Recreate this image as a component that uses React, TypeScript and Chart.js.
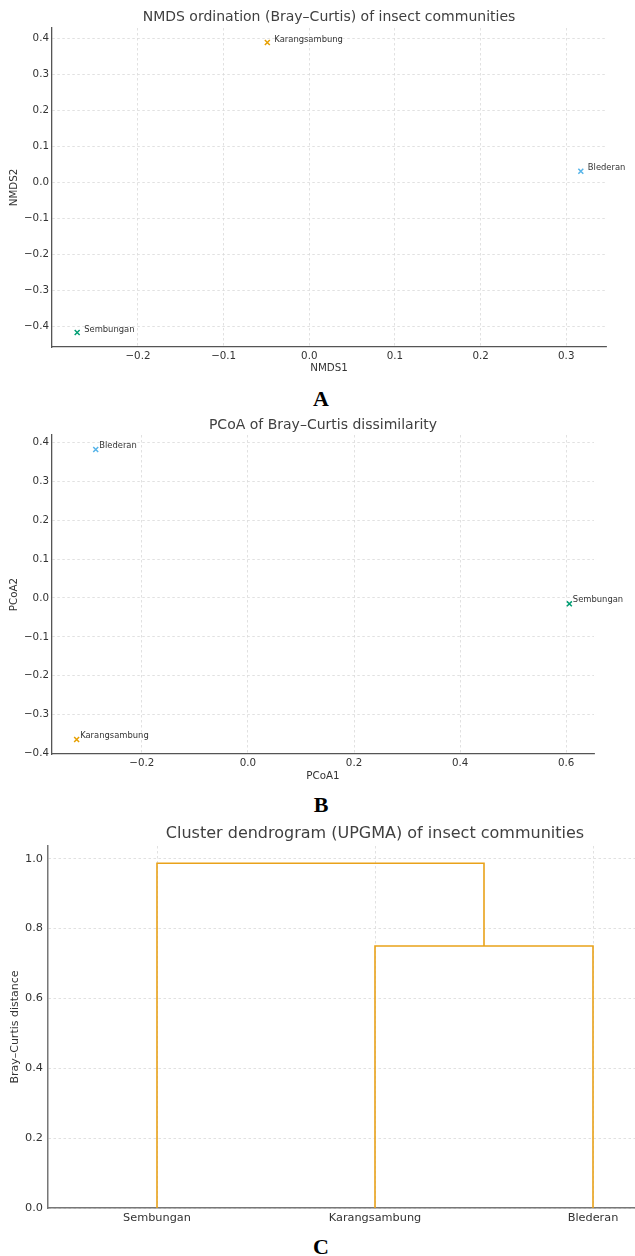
import React, { useEffect, useRef } from 'react';
import { Chart, registerables } from 'chart.js';

Chart.register(...registerables);
Chart.defaults.font.family = "'DejaVu Sans', 'Liberation Sans', sans-serif";

// ---------------- data ----------------
const sites = ['Karangsambung', 'Blederan', 'Sembungan'];
const siteColors = ['#E69F00', '#56B4E9', '#009E73'];

// NMDS (panel A)
const nmds1 = [-0.049, 0.317, -0.271];
const nmds2 = [0.389, 0.031, -0.417];
const nmdsXTicks = [-0.2, -0.1, 0.0, 0.1, 0.2, 0.3];
const nmdsYTicks = [-0.4, -0.3, -0.2, -0.1, 0.0, 0.1, 0.2, 0.3, 0.4];

// PCoA (panel B)
const pcoa1 = [-0.323, -0.287, 0.606];
const pcoa2 = [-0.364, 0.382, -0.015];
const pcoaXTicks = [-0.2, 0.0, 0.2, 0.4, 0.6];
const pcoaYTicks = [-0.4, -0.3, -0.2, -0.1, 0.0, 0.1, 0.2, 0.3, 0.4];

// UPGMA dendrogram (panel C)
const leaves = ['Sembungan', 'Karangsambung', 'Blederan'];
const leafPositions = [5, 15, 25];
const linkX = [
  [15, 15, 25, 25],
  [5, 5, 20, 20],
];
const linkHeights = [
  [0, 0.75, 0.75, 0],
  [0, 0.987, 0.987, 0.75],
];
const dendroYTicks = [0.0, 0.2, 0.4, 0.6, 0.8, 1.0];

// ---------------- helpers ----------------
const fmt = (v: number) => {
  const s = Math.abs(v) < 1e-9 ? '0.0' : v.toFixed(1);
  return s.replace('-', '\u2212');
};

const padRange = (vals: number[], m = 0.05): [number, number] => {
  const lo = Math.min(...vals);
  const hi = Math.max(...vals);
  const d = (hi - lo) * m;
  return [lo - d, hi + d];
};

const GRID_COLOR = '#d9d9d9';
const TEXT_COLOR = '#333333';
const TITLE_COLOR = '#404040';

function pointLabelPlugin(names: string[], dx: number, dy: number) {
  return {
    id: 'pointLabels',
    afterDatasetsDraw(chart: any) {
      const ctx = chart.ctx as CanvasRenderingContext2D;
      const meta = chart.getDatasetMeta(0);
      ctx.save();
      ctx.font = "8.4px 'DejaVu Sans', sans-serif";
      ctx.fillStyle = TEXT_COLOR;
      ctx.textAlign = 'left';
      ctx.textBaseline = 'alphabetic';
      meta.data.forEach((el: any, i: number) => {
        ctx.fillText(names[i], el.x + dx, el.y + dy);
      });
      ctx.restore();
    },
  };
}

interface ScatterOpts {
  xs: number[];
  ys: number[];
  xTicks: number[];
  yTicks: number[];
  title: string;
  xTitle: string;
  yTitle: string;
  titlePad: { top: number; bottom: number };
  padRight: number;
  xAxisH: number;
  xTitlePadB: number;
  labelDx: number;
  labelDy: number;
}

function scatterConfig(o: ScatterOpts): any {
  const [xMin, xMax] = padRange(o.xs);
  const [yMin, yMax] = padRange(o.ys);
  return {
    type: 'scatter',
    data: {
      datasets: [
        {
          data: o.xs.map((x, i) => ({ x, y: o.ys[i] })),
          pointStyle: 'crossRot',
          pointRadius: 3.5,
          pointHoverRadius: 3.5,
          pointBorderWidth: 1.5,
          pointBorderColor: siteColors,
          pointBackgroundColor: siteColors,
        },
      ],
    },
    options: {
      responsive: false,
      animation: false,
      devicePixelRatio: 1,
      layout: { padding: { left: 0, right: o.padRight, top: 0, bottom: 0 } },
      plugins: {
        legend: { display: false },
        tooltip: { enabled: false },
        title: {
          display: true,
          text: o.title,
          color: TITLE_COLOR,
          fullSize: false,
          font: { size: 14, weight: 'normal' },
          padding: o.titlePad,
        },
      },
      scales: {
        x: {
          type: 'linear',
          min: xMin,
          max: xMax,
          afterBuildTicks: (s: any) => {
            s.ticks = o.xTicks.map((v) => ({ value: v }));
          },
          afterFit: (s: any) => {
            s.height = o.xAxisH;
          },
          ticks: {
            callback: (v: number) => fmt(v),
            color: TEXT_COLOR,
            font: { size: 10.3 },
            padding: 3,
            maxRotation: 0,
            autoSkip: false,
          },
          grid: { color: GRID_COLOR, lineWidth: 0.8, drawTicks: false },
          border: { color: '#555', width: 1.3, dash: [2.5, 2.5] },
          title: {
            display: true,
            text: o.xTitle,
            color: TEXT_COLOR,
            font: { size: 10.3 },
            padding: { top: 0, bottom: o.xTitlePadB },
          },
        },
        y: {
          type: 'linear',
          min: yMin,
          max: yMax,
          afterBuildTicks: (s: any) => {
            s.ticks = o.yTicks.map((v) => ({ value: v }));
          },
          afterFit: (s: any) => {
            s.width = 52;
          },
          ticks: {
            callback: (v: number) => fmt(v),
            color: TEXT_COLOR,
            font: { size: 10.3 },
            padding: 3,
            autoSkip: false,
          },
          grid: { color: GRID_COLOR, lineWidth: 0.8, drawTicks: false },
          border: { color: '#555', width: 1.3, dash: [2.5, 2.5] },
          title: {
            display: true,
            text: o.yTitle,
            color: TEXT_COLOR,
            font: { size: 10.3 },
            padding: { top: 8, bottom: 0 },
          },
        },
      },
    },
    plugins: [pointLabelPlugin(sites, o.labelDx, o.labelDy)],
  };
}

function dendroConfig(): any {
  const maxH = Math.max(...linkHeights.map((h) => Math.max(...h)));
  return {
    type: 'scatter',
    data: {
      datasets: linkX.map((xs, k) => ({
        data: xs.map((x, j) => ({ x, y: linkHeights[k][j] })),
        showLine: true,
        borderColor: '#E9A21A',
        borderWidth: 1.6,
        pointRadius: 0,
        pointHoverRadius: 0,
        fill: false,
        tension: 0,
      })),
    },
    options: {
      responsive: false,
      animation: false,
      devicePixelRatio: 1,
      layout: { padding: { left: 0, right: 18, top: 0, bottom: 0 } },
      plugins: {
        legend: { display: false },
        tooltip: { enabled: false },
        title: {
          display: true,
          text: 'Cluster dendrogram (UPGMA) of insect communities',
          color: TITLE_COLOR,
          fullSize: false,
          font: { size: 16, weight: 'normal' },
          padding: { top: 9.4, bottom: 2.4 },
        },
      },
      scales: {
        x: {
          type: 'linear',
          min: 0,
          max: leaves.length * 10,
          afterBuildTicks: (s: any) => {
            s.ticks = leafPositions.map((v) => ({ value: v }));
          },
          afterFit: (s: any) => {
            s.height = 22;
          },
          ticks: {
            callback: (_v: number, i: number) => leaves[i],
            color: TEXT_COLOR,
            font: { size: 11.3 },
            padding: 3,
            maxRotation: 0,
            autoSkip: false,
          },
          grid: { color: GRID_COLOR, lineWidth: 0.8, drawTicks: false },
          border: { color: '#777', width: 1.5, dash: [2.5, 2.5] },
        },
        y: {
          type: 'linear',
          min: 0,
          max: maxH * 1.05,
          afterBuildTicks: (s: any) => {
            s.ticks = dendroYTicks.map((v) => ({ value: v }));
          },
          afterFit: (s: any) => {
            s.width = 48;
          },
          ticks: {
            callback: (v: number) => v.toFixed(1),
            color: TEXT_COLOR,
            font: { size: 11.3 },
            padding: 5,
            autoSkip: false,
          },
          grid: { color: GRID_COLOR, lineWidth: 0.8, drawTicks: false },
          border: { color: '#777', width: 1.5, dash: [2.5, 2.5] },
          title: {
            display: true,
            text: 'Bray\u2013Curtis distance',
            color: TEXT_COLOR,
            font: { size: 11 },
            padding: { top: 8.4, bottom: 0 },
          },
        },
      },
    },
  };
}

function ChartBox({ make, left, top, width, height }: { make: () => any; left: number; top: number; width: number; height: number }) {
  const ref = useRef<HTMLCanvasElement | null>(null);
  useEffect(() => {
    if (!ref.current) return;
    const chart = new Chart(ref.current, make());
    return () => chart.destroy();
  }, []);
  return (
    <div style={{ position: 'absolute', left, top, width, height }}>
      <canvas ref={ref} width={width} height={height} style={{ display: 'block', width, height }} />
    </div>
  );
}

function Letter({ text, top }: { text: string; top: number }) {
  return (
    <div
      style={{
        position: 'absolute',
        left: 321,
        top,
        transform: 'translateX(-50%)',
        fontFamily: "'Liberation Serif', 'Times New Roman', serif",
        fontWeight: 'bold',
        fontSize: 22,
        lineHeight: '22px',
        color: '#000',
      }}
    >
      {text}
    </div>
  );
}

export default function App() {
  return (
    <div
      style={{
        position: 'absolute',
        left: 0,
        top: 0,
        width: 635,
        height: 1256,
        overflow: 'hidden',
        background: '#fff',
      }}
    >
      <ChartBox
        left={0}
        top={0}
        width={635}
        height={377}
        make={() =>
          scatterConfig({
            xs: nmds1,
            ys: nmds2,
            xTicks: nmdsXTicks,
            yTicks: nmdsYTicks,
            title: 'NMDS ordination (Bray\u2013Curtis) of insect communities',
            xTitle: 'NMDS1',
            yTitle: 'NMDS2',
            titlePad: { top: 8.6, bottom: 2.6 },
            padRight: 29,
            xAxisH: 30,
            xTitlePadB: 2.5,
            labelDx: 7,
            labelDy: -1,
          })
        }
      />
      <Letter text="A" top={388} />
      <ChartBox
        left={0}
        top={405}
        width={635}
        height={380}
        make={() =>
          scatterConfig({
            xs: pcoa1,
            ys: pcoa2,
            xTicks: pcoaXTicks,
            yTicks: pcoaYTicks,
            title: 'PCoA of Bray\u2013Curtis dissimilarity',
            xTitle: 'PCoA1',
            yTitle: 'PCoA2',
            titlePad: { top: 11.6, bottom: 1.6 },
            padRight: 41,
            xAxisH: 31,
            xTitlePadB: 2,
            labelDx: 3.5,
            labelDy: -2,
          })
        }
      />
      <Letter text="B" top={794} />
      <ChartBox left={0} top={815} width={720} height={415} make={dendroConfig} />
      <Letter text="C" top={1236} />
    </div>
  );
}
